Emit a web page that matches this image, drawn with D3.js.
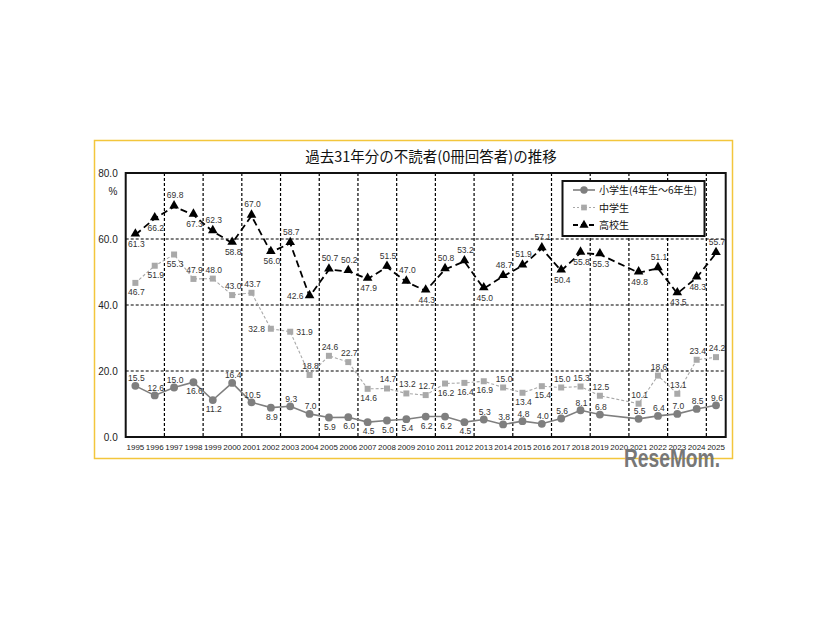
<!DOCTYPE html>
<html>
<head>
<meta charset="utf-8">
<script src="https://cdn.jsdelivr.net/npm/d3@7"></script>
<style>
  html, body { margin: 0; padding: 0; background: #fff; }
  svg { display: block; }
</style>
</head>
<body>
<svg id="chart" width="826" height="620"></svg>
<script>
// ---------- DATA ----------
const years = ["1995","1996","1997","1998","1999","2000","2001","2002","2003","2004","2005","2006","2007","2008","2009","2010","2011","2012","2013","2014","2015","2016","2017","2018","2019","2020","2021","2022","2023","2024","2025"];
const elementary = [15.5,12.6,15.0,16.6,11.2,16.4,10.5,8.9,9.3,7.0,5.9,6.0,4.5,5.0,5.4,6.2,6.2,4.5,5.3,3.8,4.8,4.0,5.6,8.1,6.8,null,5.5,6.4,7.0,8.5,9.6];
const juniorHigh = [46.7,51.9,55.3,47.9,48.0,43.0,43.7,32.8,31.9,18.8,24.6,22.7,14.6,14.7,13.2,12.7,16.2,16.4,16.9,15.0,13.4,15.4,15.0,15.3,12.5,null,10.1,18.6,13.1,23.4,24.2];
const highSchool = [61.3,66.2,69.8,67.3,62.3,58.8,67.0,56.0,58.7,42.6,50.7,50.2,47.9,51.5,47.0,44.3,50.8,53.2,45.0,48.7,51.9,57.1,50.4,55.8,55.3,null,49.8,51.1,43.5,48.3,55.7];
const seriesNames = ["小学生(4年生～6年生)","中学生","高校生"];
const yTicks = [0,20,40,60,80];
const titleText = "過去31年分の不読者(0冊回答者)の推移";

// ---------- LAYOUT (label placement: a=above, b=below, l=left, r=right) ----------
const elemPos = "aaabbaabaabbbbbbbbaaaaaaa-aaaaa".split("");
const jrPos   = "bbbaaaalraaabaaabbbabbaaa-aaaaa".split("");
const hsPos   = "bbabababalaabaabaabaaabbb-babba".split("");

const svg = d3.select("#chart");
const L = 125.7, R = 725.7, T = 173, B = 437;
const x = d3.scaleBand().domain(years).range([L, R]).padding(0);
const y = d3.scaleLinear().domain([0, 80]).range([B, T]);
const cx = d => x(d) + x.bandwidth() / 2;
const numFont = "'Liberation Sans', Arial, sans-serif";

// outer yellow frame
svg.append("rect").attr("x", 94.5).attr("y", 140.5).attr("width", 638).attr("height", 318)
  .attr("fill", "#fff").attr("stroke", "#f3c63c").attr("stroke-width", 1.5);

// title
svg.append("text").attr("x", 431).attr("y", 162).attr("text-anchor", "middle")
  .attr("font-family", "'Noto Sans CJK JP', sans-serif").attr("font-size", 14.5)
  .attr("fill", "#111").text(titleText);

// grid: horizontal
const grid = svg.append("g");
grid.selectAll("line.h").data(yTicks.filter(t => t > 0 && t < 80)).join("line")
  .attr("x1", L).attr("x2", R).attr("y1", d => y(d)).attr("y2", d => y(d))
  .attr("stroke", "#000").attr("stroke-width", 1.2).attr("stroke-dasharray", "3,2");
// grid: vertical every two categories
const vIdx = d3.range(2, years.length, 2);
grid.selectAll("line.v").data(vIdx).join("line")
  .attr("x1", i => x(years[i])).attr("x2", i => x(years[i]))
  .attr("y1", T).attr("y2", B)
  .attr("stroke", "#000").attr("stroke-width", 1.2).attr("stroke-dasharray", "3,2");

// plot border
svg.append("rect").attr("x", L).attr("y", T).attr("width", R - L).attr("height", B - T)
  .attr("fill", "none").attr("stroke", "#111").attr("stroke-width", 2);

// y axis labels
const yAxis = d3.axisLeft(y).tickValues(yTicks).tickFormat(d3.format(".1f")).tickSize(0).tickPadding(8);
const yg = svg.append("g").attr("transform", `translate(${L},0)`).call(yAxis);
yg.select(".domain").remove();
yg.selectAll("text").attr("font-family", numFont).attr("font-size", 10).attr("fill", "#222");
svg.append("text").attr("x", 113).attr("y", 195).attr("text-anchor", "middle")
  .attr("font-family", numFont).attr("font-size", 10).attr("fill", "#222").text("%");

// x axis labels
const xAxis = d3.axisBottom(x).tickSize(0).tickPadding(7);
const xg = svg.append("g").attr("transform", `translate(0,${B})`).call(xAxis);
xg.select(".domain").remove();
xg.selectAll(".tick text").attr("font-family", numFont).attr("font-size", 8).attr("fill", "#222");

// series
const series = [
  {name: seriesNames[0], vals: elementary, pos: elemPos, color: "#7f7f7f", width: 1.6, dash: null, sym: d3.symbolCircle, size: 48, up: -4.5},
  {name: seriesNames[1], vals: juniorHigh, pos: jrPos, color: "#a9a9a9", width: 1.1, dash: "3,2", sym: d3.symbolSquare, size: 36, up: -6},
  {name: seriesNames[2], vals: highSchool, pos: hsPos, color: "#000", width: 1.8, dash: "7,4", sym: d3.symbolTriangle, size: 40, up: -8.5}
];
const line = d3.line().x(d => cx(d.year)).y(d => y(d.v));

series.forEach(s => {
  const pts = years.map((yr, i) => ({year: yr, v: s.vals[i], p: s.pos[i]})).filter(d => d.v != null);
  svg.append("path").datum(pts).attr("d", line).attr("fill", "none")
    .attr("stroke", s.color).attr("stroke-width", s.width).attr("stroke-dasharray", s.dash);
  svg.append("g").selectAll("path").data(pts).join("path")
    .attr("d", d3.symbol().type(s.sym).size(s.size))
    .attr("transform", d => `translate(${cx(d.year)},${y(d.v) + (s.sym === d3.symbolTriangle ? -1 : 0)})`)
    .attr("fill", s.color);
  svg.append("g").selectAll("text").data(pts).join("text")
    .attr("font-family", numFont).attr("font-size", 8.5).attr("fill", "#333")
    .attr("x", d => cx(d.year) + (d.p === "l" ? -6 : d.p === "r" ? 6 : 1))
    .attr("y", d => y(d.v) + (d.p === "a" ? s.up : d.p === "b" ? 12 : 3))
    .attr("text-anchor", d => d.p === "l" ? "end" : d.p === "r" ? "start" : "middle")
    .text(d => d.v.toFixed(1));
});

// legend
const lg = svg.append("g");
lg.append("rect").attr("x", 562.5).attr("y", 181).attr("width", 142).attr("height", 55)
  .attr("fill", "#fff").attr("stroke", "#111").attr("stroke-width", 2);
series.forEach((s, i) => {
  const ly = 190 + i * 17.5;
  lg.append("line").attr("x1", 573).attr("x2", 595).attr("y1", ly).attr("y2", ly)
    .attr("stroke", s.color).attr("stroke-width", s.width).attr("stroke-dasharray", s.dash ? (i === 2 ? "5,3" : "2,2") : null);
  lg.append("path").attr("d", d3.symbol().type(s.sym).size(s.size * 0.9))
    .attr("transform", `translate(584,${ly})`).attr("fill", s.color);
  lg.append("text").attr("x", 599).attr("y", ly + 4)
    .attr("font-family", "'Noto Sans CJK JP', sans-serif").attr("font-size", 10).attr("fill", "#111")
    .text(s.name);
});

// watermark
svg.append("text").attr("x", 624).attr("y", 467)
  .attr("font-family", "'Liberation Sans', Arial, sans-serif").attr("font-weight", "bold").attr("font-size", 26)
  .attr("fill", "#777").attr("textLength", 96).attr("lengthAdjust", "spacingAndGlyphs").text("ReseMom.");
</script>
</body>
</html>
